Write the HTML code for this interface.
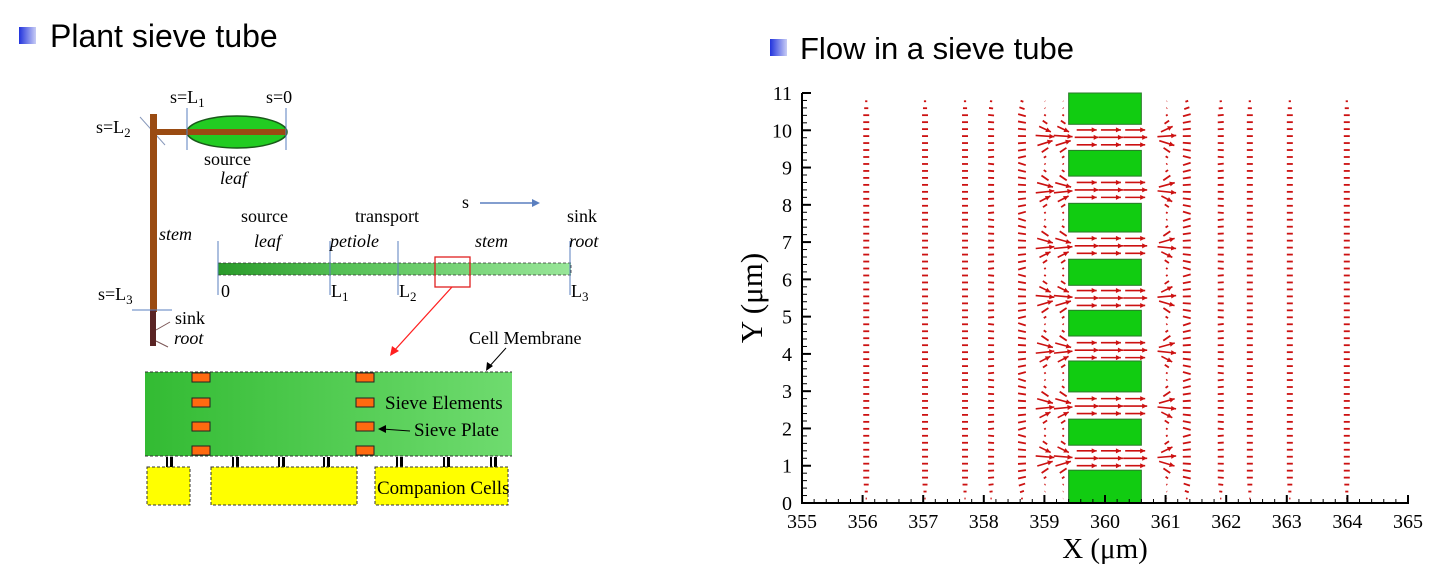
<!DOCTYPE html>
<html><head><meta charset="utf-8">
<style>
body{margin:0;width:1446px;height:569px;background:#fff;overflow:hidden;font-family:"Liberation Serif",serif;}
svg{position:absolute;left:0;top:0}
</style></head>
<body>
<svg width="1446" height="569">
<defs>
<linearGradient id="barg" x1="0" x2="1"><stop offset="0" stop-color="#2a9a2a"/><stop offset="0.35" stop-color="#55c055"/><stop offset="1" stop-color="#99e699"/></linearGradient>
<linearGradient id="sieveg" x1="0" x2="1"><stop offset="0" stop-color="#33bb33"/><stop offset="1" stop-color="#6fdb6f"/></linearGradient>
<linearGradient id="bul" x1="0" x2="1"><stop offset="0" stop-color="#2233dd"/><stop offset="1" stop-color="#c8cdf5"/></linearGradient>
</defs>
<rect x="19" y="27" width="17" height="17" fill="url(#bul)"/>
<text x="50" y="47" font-family="Liberation Sans, sans-serif" font-size="32" fill="#000">Plant sieve tube</text>
<rect x="770" y="39" width="17" height="17" fill="url(#bul)"/>
<text x="800" y="59" font-family="Liberation Sans, sans-serif" font-size="31" fill="#000">Flow in a sieve tube</text>

<g font-size="18">
<line x1="140" y1="117" x2="165" y2="145" stroke="#8899bb" stroke-width="1"/>
<rect x="150" y="114" width="7" height="198" fill="#9a4b12"/>
<rect x="150" y="310" width="6" height="36" fill="#5a2424"/>
<line x1="156" y1="330" x2="170" y2="322" stroke="#7a5555"/><line x1="156" y1="341" x2="168" y2="347" stroke="#7a5555"/>
<line x1="132" y1="310" x2="172" y2="310" stroke="#5a7fbf"/>
<rect x="153" y="129" width="35" height="6" fill="#9a4b12"/>
<ellipse cx="237" cy="132" rx="50" ry="16" fill="#22cc22" stroke="#1a5a1a" stroke-width="1.5"/>
<rect x="187" y="129" width="99" height="6" fill="#9a4b12"/>
<line x1="187" y1="108" x2="187" y2="150" stroke="#5a7fbf"/><line x1="286" y1="108" x2="286" y2="150" stroke="#5a7fbf"/>
<text x="170" y="103">s=L<tspan font-size="13" dy="4">1</tspan></text>
<text x="266" y="103">s=0</text>
<text x="96" y="133">s=L<tspan font-size="13" dy="4">2</tspan></text>
<text x="204" y="165">source</text>
<text x="220" y="184" font-style="italic">leaf</text>
<text x="159" y="240" font-style="italic">stem</text>
<text x="98" y="300">s=L<tspan font-size="13" dy="4">3</tspan></text>
<text x="175" y="324">sink</text>
<text x="174" y="344" font-style="italic">root</text>
<rect x="218" y="263" width="353" height="12" fill="url(#barg)" stroke="#333" stroke-dasharray="3,2" stroke-width="0.8"/>
<g stroke="#5a7fbf"><line x1="218" y1="241" x2="218" y2="295"/><line x1="330" y1="241" x2="330" y2="295"/><line x1="398" y1="241" x2="398" y2="295"/><line x1="570" y1="241" x2="570" y2="295"/></g>
<text x="221" y="297">0</text><text x="331" y="297">L<tspan font-size="13" dy="4">1</tspan></text><text x="399" y="297">L<tspan font-size="13" dy="4">2</tspan></text><text x="571" y="297">L<tspan font-size="13" dy="4">3</tspan></text>
<text x="241" y="222">source</text><text x="254" y="247" font-style="italic">leaf</text>
<text x="355" y="222">transport</text><text x="330" y="247" font-style="italic">petiole</text>
<text x="475" y="247" font-style="italic">stem</text>
<text x="567" y="222">sink</text><text x="569" y="247" font-style="italic">root</text>
<text x="462" y="208">s</text>
<line x1="480" y1="203" x2="535" y2="203" stroke="#5a7fbf" stroke-width="1.5"/><polygon points="540,203 532,199 532,207" fill="#5a7fbf"/>
<rect x="435" y="257" width="35" height="30" fill="none" stroke="#e02020" stroke-width="1.3"/>
<line x1="452" y1="287" x2="393" y2="352" stroke="#ff2020" stroke-width="1.3"/><polygon points="390,356 392,346 399,351" fill="#ff2020"/>
<text x="469" y="344">Cell Membrane</text>
<line x1="506" y1="348" x2="488" y2="368" stroke="#000"/><polygon points="486,371 487,362 493,366" fill="#000"/>
<rect x="145" y="372" width="367" height="84" fill="url(#sieveg)"/>
<line x1="145" y1="372" x2="512" y2="372" stroke="#333" stroke-dasharray="3,2"/>
<line x1="145" y1="456" x2="512" y2="456" stroke="#333" stroke-dasharray="3,2"/>
<g fill="#ff6a10" stroke="#222" stroke-width="1">
<rect x="192" y="373" width="18" height="9"/><rect x="192" y="398" width="18" height="9"/><rect x="192" y="422" width="18" height="9"/><rect x="192" y="446" width="18" height="9"/>
<rect x="356" y="373" width="18" height="9"/><rect x="356" y="398" width="18" height="9"/><rect x="356" y="422" width="18" height="9"/><rect x="356" y="446" width="18" height="9"/>
</g>
<text x="385" y="409" font-size="19">Sieve Elements</text>
<text x="414" y="436" font-size="19">Sieve Plate</text>
<line x1="410" y1="431" x2="382" y2="429" stroke="#000"/><polygon points="378,429 386,425 386,433" fill="#000"/>
<g fill="#000"><rect x="166" y="457" width="2" height="11"/><rect x="170" y="457" width="3" height="11"/><rect x="232" y="457" width="2" height="11"/><rect x="236" y="457" width="3" height="11"/><rect x="278" y="457" width="2" height="11"/><rect x="282" y="457" width="3" height="11"/><rect x="323" y="457" width="2" height="11"/><rect x="327" y="457" width="3" height="11"/><rect x="396" y="457" width="2" height="11"/><rect x="400" y="457" width="3" height="11"/><rect x="443" y="457" width="2" height="11"/><rect x="447" y="457" width="3" height="11"/><rect x="490" y="457" width="2" height="11"/><rect x="494" y="457" width="3" height="11"/></g>
<g fill="#ffff00" stroke="#333" stroke-dasharray="3,2">
<rect x="147" y="467" width="43" height="38"/><rect x="211" y="467" width="146" height="38"/><rect x="375" y="467" width="133" height="38"/>
</g>
<text x="377" y="494" font-size="19">Companion Cells</text>
</g>

<g id="chart" font-family="Liberation Serif, serif"></g>
</svg>
<script>
const xTicks=[355,356,357,358,359,360,361,362,363,364,365];
const yTicks=[0,1,2,3,4,5,6,7,8,9,10,11];
const plateBottoms=[10.16,8.77,7.27,5.84,4.48,2.98,1.55,0];
const plateTops=[11,9.46,8.04,6.54,5.17,3.81,2.25,0.88];
const plateX=[359.4,360.6];
const pores=[9.81,8.4,6.9,5.5,4.1,2.6,1.2];
const columns=[356.06,357.03,357.69,358.12,358.63,359.01,359.31,361.02,361.35,361.91,362.39,363.05,363.99];
const channelX=[359.5,359.9,360.3];
const X0=802,X1=1408,Y0=503,Y1=93;
const sx=v=>X0+(v-355)/10*(X1-X0);
const sy=v=>Y0-(v/11)*(Y0-Y1);
const NS='http://www.w3.org/2000/svg';
const g=document.getElementById('chart');
function mk(t,a){const e=document.createElementNS(NS,t);for(const k in a)e.setAttribute(k,a[k]);g.appendChild(e);return e;}
for(let i=0;i<plateTops.length;i++){
 const r=mk('rect',{x:sx(plateX[0]),y:sy(plateTops[i]),width:sx(plateX[1])-sx(plateX[0]),height:sy(plateBottoms[i])-sy(plateTops[i]),fill:'#11cc11',stroke:'#2a7a2a','stroke-width':1});
 
 
}
function arrow(x,y,dx,dy){
 const len=Math.hypot(dx,dy);
 const l=mk('line',{x1:x-dx/2,y1:y-dy/2,x2:x+dx/2,y2:y+dy/2,stroke:'#cc1111','stroke-width':len>10?1.6:1.8});
 
 
 if(len>12){const ux=dx/len,uy=dy/len,hx=x+dx/2,hy=y+dy/2;
  mk('polygon',{points:`${hx},${hy} ${hx-5*ux-2.5*uy},${hy-5*uy+2.5*ux} ${hx-5*ux+2.5*uy},${hy-5*uy-2.5*ux}`,fill:'#cc1111'});}
}
for(const cx of columns){
 const dist=Math.abs(cx-360);
 const left=cx<360;
 for(let y=0.12;y<10.95;y+=0.187){
  let p=pores[0];for(const q of pores)if(Math.abs(q-y)<Math.abs(p-y))p=q;
  const d=y-p;
  const edge=Math.min(y,11-y);const fade=Math.min(1,edge/0.6);
  let len=(dist>1.8?6:8)*fade;
  let ang=0;
  if(dist<2.2){const s=(2.2-dist)/2.2;ang=(left?1:-1)*Math.max(-1,Math.min(1,d*1.3))*s*0.9;}
  if(dist<1.2){const prox=Math.exp(-d*d/0.12);len=fade*(1+18*prox);ang=(left?1:-1)*Math.max(-0.6,Math.min(0.6,d*2));}
  arrow(sx(cx),sy(y),len*Math.cos(ang),len*Math.sin(ang));
 }
}
for(const p of pores){for(const off of [-0.2,0,0.2]){for(const cx of channelX){arrow(sx(cx)+12,sy(p+off),off===0?24:20,0);}}}
const ax=mk('path',{d:`M${X0},${Y1} V${Y0} H${X1} V${Y0-7}`,fill:'none',stroke:'#000','stroke-width':2});


for(const t of xTicks){
 mk('line',{x1:sx(t),y1:Y0,x2:sx(t),y2:Y0-8,stroke:'#000','stroke-width':2});
 if(t<365)for(let k=1;k<5;k++)mk('line',{x1:sx(t+k*0.2),y1:Y0,x2:sx(t+k*0.2),y2:Y0-4,stroke:'#000','stroke-width':1});
 const tx=mk('text',{x:sx(t),y:Y0+25,'font-size':20,'text-anchor':'middle'});tx.textContent=t;
 
 
}
for(const t of yTicks){
 mk('line',{x1:X0,y1:sy(t),x2:X0+9,y2:sy(t),stroke:'#000','stroke-width':2});
 if(t<11)for(let k=1;k<5;k++)mk('line',{x1:X0,y1:sy(t+k*0.2),x2:X0+5,y2:sy(t+k*0.2),stroke:'#000','stroke-width':1});
 const tx=mk('text',{x:X0-10,y:sy(t)+7,'font-size':20,'text-anchor':'end'});tx.textContent=t;
 
 
}
const xt=mk('text',{x:1105,y:558,'font-size':29,'text-anchor':'middle'});xt.textContent='X (μm)';


const yt=mk('text',{x:0,y:0,'font-size':31,'text-anchor':'middle',transform:'translate(762,298) rotate(-90)'});yt.textContent='Y (μm)';


</script>
</body></html>
